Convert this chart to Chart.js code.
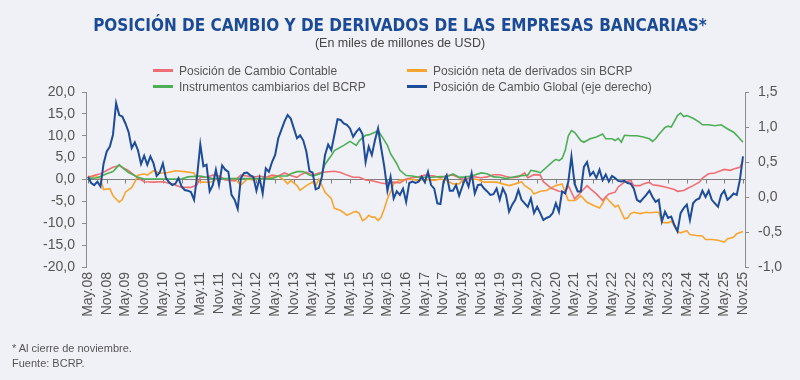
<!DOCTYPE html>
<html>
<head>
<meta charset="utf-8">
<script src="https://cdn.jsdelivr.net/npm/chart.js@4.4.1/dist/chart.umd.min.js"></script>
<style>
  body { margin: 0; background: #f0f1f6; }
  #wrap { position: relative; width: 800px; height: 380px; font-family: "Liberation Sans", Arial, sans-serif; color: #555; }
  #chart { position: absolute; left: 0; top: 0; }
  .item { position: absolute; white-space: nowrap; font-size: 12px; line-height: 14px; }
  .sw { display: inline-block; width: 20px; height: 3px; vertical-align: middle; margin: -2px 6px 0 0; }
  #notes { position: absolute; left: 12px; top: 341px; font-size: 11px; line-height: 15px; color: #555; }
</style>
</head>
<body>
<div id="wrap">
  <canvas id="chart" width="800" height="380"></canvas>
  <div id="legend"></div>
  <div id="notes">* Al cierre de noviembre.<br>Fuente: BCRP.</div>
</div>
<script>
// eje x: meses desde May.08 (0) hasta Nov.25 (210)
const tickLabels = ['May.08','Nov.08','May.09','Nov.09','May.10','Nov.10','May.11','Nov.11','May.12','Nov.12',
  'May.13','Nov.13','May.14','Nov.14','May.15','Nov.15','May.16','Nov.16','May.17','Nov.17',
  'May.18','Nov.18','May.19','Nov.19','May.20','Nov.20','May.21','Nov.21','May.22','Nov.22',
  'May.23','Nov.23','May.24','Nov.24','May.25','Nov.25'];

// Posición de Cambio Contable (eje izq.)
const contableMonths = [0,4,8,10,13,16,18,21,24,27,30,33,35,36,38,40,42,44,47,49,51,53,55,57,59,61,63,65,67,68,
  70,72,74,76,79,81,83,85,87,89,91,94,96,98,100,102,104,106,108,111,113,115,117,119,121,123,126,128,130,132,
  134,136,138,140,141,143,145,146,148,149,151,153,154,156,157,158,160,161,163,165,166,167,169,170,172,174,175,177,178,180,
  181,183,185,188,189,191,192,194,196,197,199,201,202,204,206,207,209,210];
const contableValues = [0.5,1.3,2.8,3.2,2.0,0.3,-0.5,-0.6,-0.5,-1.0,-1.8,-1.8,-1.2,0.5,0.5,1.0,0.8,-0.1,-0.3,1.0,
  0.8,0.5,0.8,0.5,1.0,0.8,1.5,0.9,0.5,1.0,1.7,1.0,1.5,1.7,1.9,1.6,1.0,0.5,0.5,-0.1,
  -0.3,-0.8,-1.0,-0.6,-0.8,0.1,0.4,0.6,1.0,0.8,0.4,0.9,1.0,0.4,-0.1,0.7,0.4,0.6,1.1,1.1,
  0.7,0.4,0.6,1.5,0.4,1.1,1.0,-0.5,-1.7,-2.1,-2.7,-2.9,-1.4,-4.4,-3.7,-2.9,-1.4,-2.1,-3.3,-4.8,
  -4.0,-3.3,-2.9,-1.7,-0.6,-0.2,-1.4,-1.4,-1.0,-0.6,-1.2,-1.4,-1.7,-2.3,-2.7,-2.5,-2.1,-1.4,-0.6,0.3,
  1.3,1.5,1.8,2.3,2.1,2.4,2.8,4.3];

// Posición neta de derivados sin BCRP (eje izq.)
const derivMonths = [0,1,2,4,5,7,8,10,11,12,14,15,16,18,19,21,23,25,28,31,34,35,36,38,40,42,44,47,49,51,
  53,55,57,59,61,63,64,65,67,68,70,72,73,74,75,76,78,79,81,82,83,85,86,87,88,89,90,91,92,93,
  94,95,96,97,98,100,102,104,106,108,111,113,115,117,119,120,122,124,125,127,129,131,133,135,137,139,140,142,143,145,
  147,148,150,151,152,153,154,156,157,158,160,162,164,165,166,167,168,169,170,172,173,174,175,177,179,180,182,183,184,186,
  187,189,190,192,193,195,197,198,200,202,204,205,207,208,210];
const derivValues = [0.8,0.5,1.0,0.1,-2.3,-2.1,-3.7,-5.2,-4.6,-2.9,-1.8,-0.6,1.0,1.3,1.0,2.0,1.5,1.5,2.0,1.8,
  1.5,-0.2,-0.6,-0.6,-0.5,0.5,0.1,0.2,-1.3,0.1,-0.1,0.1,0.2,0.5,0.8,-0.2,-1.0,-0.2,-1.4,-2.5,
  -1.4,-0.6,-1.5,0.1,-1.4,-2.9,-4.4,-6.6,-7.1,-7.6,-8.2,-7.5,-7.3,-7.8,-9.4,-9.0,-8.2,-8.6,-8.6,-9.4,
  -8.6,-6.7,-4.4,-2.9,-1.0,-0.2,0.0,0.0,-0.2,0.0,-0.2,0.1,-0.2,-1.0,-1.0,-0.2,0.0,0.1,0.0,-0.6,
  -0.6,-0.6,-1.0,-1.4,-1.0,-0.5,-1.4,-2.3,-3.3,-2.7,-2.5,-2.1,-1.4,-1.2,-1.0,-2.9,-4.8,-4.8,-4.4,-3.7,
  -5.2,-5.9,-6.5,-5.5,-4.0,-4.8,-5.5,-6.3,-5.9,-9.0,-8.8,-7.8,-7.5,-7.8,-7.5,-7.6,-7.5,-7.5,-9.8,-9.9,
  -9.5,-11.9,-12.2,-11.7,-12.6,-12.8,-12.9,-13.7,-13.7,-13.9,-14.3,-13.6,-13.2,-12.4,-11.9];

// Instrumentos cambiarios del BCRP (eje izq.)
const bcrpMonths = [0,3,6,8,10,11,13,16,18,24,30,32,36,38,40,50,59,61,64,65,67,69,71,72,74,75,76,78,79,81,
  82,84,86,87,89,90,92,93,94,96,97,99,100,102,104,106,110,113,115,117,119,121,123,126,128,130,132,134,136,138,
  141,142,144,145,147,149,150,151,152,153,154,155,156,158,159,161,163,165,166,168,169,170,171,172,174,176,178,180,181,182,
  183,185,186,187,188,189,190,191,192,194,196,197,199,201,203,205,207,208,210];
const bcrpValues = [0.2,0.4,1.3,1.8,3.4,2.7,1.6,0.5,0.1,0.1,0.1,0.6,0.8,0.5,0.2,0.2,0.2,0.8,0.8,1.3,
  1.8,1.8,1.0,0.8,1.2,1.5,3.5,5.5,6.6,7.4,7.8,8.7,7.8,8.9,10.1,10.2,10.8,11.2,10.1,7.8,
  5.9,3.6,2.1,0.9,0.8,0.5,0.5,0.7,0.6,1.3,0.5,0.6,0.8,1.5,1.3,0.6,0.5,0.2,0.5,0.8,
  1.0,2.1,1.8,1.5,2.8,4.1,4.6,4.3,4.8,6.6,10.0,11.2,10.8,8.9,8.5,9.3,9.7,10.4,9.3,9.3,
  8.9,9.4,8.5,10.1,10.0,10.0,9.7,9.3,8.7,9.3,10.3,11.9,12.2,12.0,13.3,14.6,15.2,14.4,14.6,14.0,
  13.1,12.5,12.5,12.3,12.5,11.6,10.8,10.1,8.5];

// Posición de Cambio Global (eje der.), mensual desde May.08
const globalValues = [0.29,0.20,0.17,0.22,0.15,0.48,0.65,0.72,0.89,1.34,
  1.17,1.15,1.05,0.93,0.70,0.78,0.67,0.47,0.59,0.46,
  0.58,0.48,0.30,0.35,0.48,0.27,0.21,0.17,0.19,0.27,
  0.15,0.10,0.09,0.07,-0.04,0.31,0.75,0.44,0.46,0.08,
  0.17,0.39,0.17,0.45,0.39,0.36,0.03,-0.04,-0.17,0.27,
  0.34,0.35,0.31,0.29,0.09,0.27,0.05,0.41,0.36,0.50,
  0.60,0.84,0.96,1.08,1.17,1.12,0.98,0.84,0.88,0.81,
  0.65,0.37,0.35,0.11,0.13,0.29,0.60,0.75,0.67,0.89,
  1.11,1.10,1.05,1.03,0.98,0.86,0.93,0.98,0.90,0.50,
  0.72,0.60,0.81,0.98,0.70,0.43,0.09,0.29,-0.02,0.08,
  0.03,0.12,-0.07,0.20,0.22,0.20,0.22,0.29,0.21,0.36,
  0.17,0.12,-0.09,-0.10,0.22,0.31,0.09,0.09,0.17,0.02,
  0.15,0.27,0.15,0.34,0.05,0.17,0.18,0.12,0.08,0.03,
  0.04,0.12,-0.04,0.12,0.03,-0.21,-0.11,-0.04,0.10,-0.04,
  -0.09,-0.14,-0.02,-0.23,-0.14,-0.23,-0.33,-0.30,-0.28,-0.23,
  -0.09,-0.21,0.08,0.05,0.22,0.58,0.19,0.08,0.08,0.43,
  0.50,0.31,0.36,0.27,0.39,0.24,0.32,0.22,0.30,0.27,
  0.23,0.22,0.23,0.20,0.19,0.12,-0.04,-0.07,-0.02,0.03,
  0.09,0.00,-0.07,-0.04,-0.35,-0.21,-0.30,-0.28,-0.40,-0.49,
  -0.23,-0.16,-0.11,-0.33,-0.09,-0.04,-0.02,0.09,0.00,0.09,
  -0.04,-0.09,-0.14,0.03,0.09,-0.04,0.00,0.05,0.03,0.24,
  0.58];

const pts = (ms, vs) => ms.map((m, i) => ({ x: m, y: vs[i] }));
const fmt = v => v.toFixed(1).replace('.', ',');

// marcas pequeñas sobre la línea del cero
const zeroTicks = {
  id: 'zeroTicks',
  beforeDatasetsDraw(chart) {
    const x = chart.scales.x, y = chart.scales.y;
    const y0 = y.getPixelForValue(0);
    const ctx = chart.ctx;
    ctx.save();
    ctx.strokeStyle = '#7f7f7f';
    ctx.lineWidth = 1;
    x.ticks.forEach(t => {
      const px = Math.round(x.getPixelForValue(t.value)) + 0.5;
      ctx.beginPath();
      ctx.moveTo(px, y0);
      ctx.lineTo(px, y0 + 4);
      ctx.stroke();
    });
    ctx.restore();
  }
};

let chart = new Chart(document.querySelector('#chart'), {
  type: 'line',
  data: {
    datasets: [
      { label: 'Posición de Cambio Contable', data: pts(contableMonths, contableValues), borderColor: '#ef6e73', borderWidth: 1.6, yAxisID: 'y', order: 2 },
      { label: 'Posición neta de derivados sin BCRP', data: pts(derivMonths, derivValues), borderColor: '#f8a530', borderWidth: 1.6, yAxisID: 'y', order: 3 },
      { label: 'Instrumentos cambiarios del BCRP', data: pts(bcrpMonths, bcrpValues), borderColor: '#4cae55', borderWidth: 1.6, yAxisID: 'y', order: 1 },
      { label: 'Posición de Cambio Global (eje derecho)', data: globalValues.map((v, i) => ({ x: i, y: v })), borderColor: '#1d4c9a', borderWidth: 2, yAxisID: 'y1', order: 0 }
    ]
  },
  options: {
    responsive: false,
    animation: false,
    devicePixelRatio: 1,
    elements: { point: { radius: 0 }, line: { tension: 0 } },
    layout: { padding: { left: 0, right: 0, top: 16, bottom: 0 } },
    plugins: {
      legend: { display: false },
      tooltip: { enabled: false },
      title: {
        display: true,
        text: 'POSICIÓN DE CAMBIO Y DE DERIVADOS DE LAS EMPRESAS BANCARIAS*',
        color: '#1b4a97',
        font: { family: "'Liberation Sans Narrow', 'DejaVu Sans Condensed', sans-serif", size: 17, weight: 'bold' },
        padding: { top: 0, bottom: 0 }
      },
      subtitle: {
        display: true,
        text: '(En miles de millones de USD)',
        color: '#444',
        font: { family: "'Liberation Sans', Arial, sans-serif", size: 12.5 },
        padding: { top: 0, bottom: 40.6 }
      }
    },
    scales: {
      x: {
        type: 'linear',
        min: -0.65,
        max: 210.65,
        afterFit: s => { s.height = 113; },
        grid: { display: false, drawTicks: false },
        border: { display: false },
        ticks: {
          stepSize: 6,
          includeBounds: false,
          autoSkip: false,
          minRotation: 90,
          maxRotation: 90,
          padding: 5,
          color: '#555',
          font: { family: "'Liberation Sans', Arial, sans-serif", size: 14 },
          callback: v => tickLabels[v / 6]
        }
      },
      y: {
        position: 'left',
        min: -20,
        max: 20,
        afterFit: s => { s.width = 86; },
        border: { display: true, color: '#8c8c8c' },
        grid: { color: c => c.tick && c.tick.value === 0 ? '#7f7f7f' : 'rgba(0,0,0,0)', tickColor: '#8c8c8c', tickLength: 4 },
        ticks: { stepSize: 5, padding: 7, color: '#555', font: { family: "'Liberation Sans', Arial, sans-serif", size: 14 }, callback: v => fmt(v) }
      },
      y1: {
        position: 'right',
        min: -1,
        max: 1.5,
        afterFit: s => { s.width = 55; },
        border: { display: true, color: '#8c8c8c' },
        grid: { drawOnChartArea: false, tickColor: '#8c8c8c', tickLength: 4 },
        ticks: { stepSize: 0.5, padding: 9, color: '#555', font: { family: "'Liberation Sans', Arial, sans-serif", size: 14 }, callback: v => fmt(v) }
      }
    }
  },
  plugins: [zeroTicks]
});

// leyenda en dos columnas
const legendPos = [[153, 64], [407, 64], [153, 80], [407, 80]];
const legendEl = document.querySelector('#legend');
chart.data.datasets.forEach((ds, i) => {
  const d = document.createElement('div');
  d.className = 'item';
  d.style.left = legendPos[i][0] + 'px';
  d.style.top = legendPos[i][1] + 'px';
  d.innerHTML = '<span class="sw" style="background:' + ds.borderColor + '"></span>' + ds.label;
  legendEl.appendChild(d);
});
</script>
</body>
</html>
